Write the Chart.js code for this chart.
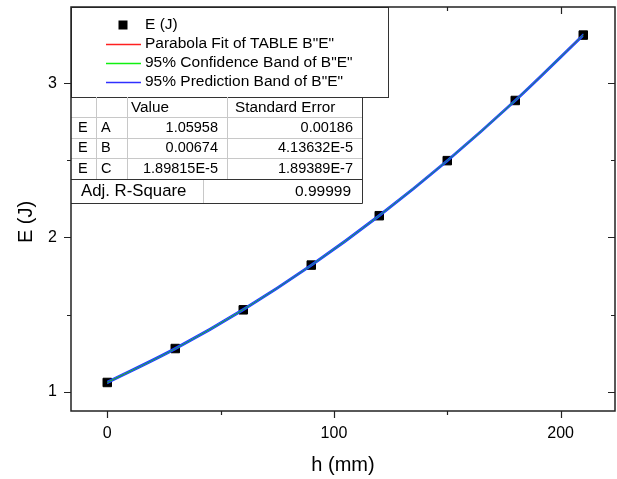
<!DOCTYPE html>
<html>
<head>
<meta charset="utf-8">
<script src="https://cdn.jsdelivr.net/npm/chart.js@4.4.1/dist/chart.umd.min.js"></script>
<style>
html, body { margin: 0; padding: 0; background: #fff; overflow: hidden; }
#wrap { width: 622px; height: 479px; position: relative; }
</style>
</head>
<body>
<div id="wrap"><canvas id="chart"></canvas></div>
<script>
// measured data E (J) vs h (mm)
var hValues = [0, 30, 60, 90, 120, 150, 180, 210];
var eValues = [1.060, 1.280, 1.531, 1.821, 2.141, 2.498, 2.888, 3.312];

// parabola fit and bands
var fitValues = [1.0596, 1.2789, 1.5323, 1.8199, 2.1417, 2.4977, 2.8878, 3.3121];
var confUpper = [1.0630, 1.2810, 1.5340, 1.8215, 2.1432, 2.4995, 2.8902, 3.3160];
var confLower = [1.0562, 1.2768, 1.5306, 1.8183, 2.1402, 2.4959, 2.8854, 3.3082];
var predUpper = [1.0670, 1.2860, 1.5393, 1.8269, 2.1487, 2.5047, 2.8950, 3.3200];
var predLower = [1.0522, 1.2718, 1.5253, 1.8129, 2.1347, 2.4907, 2.8806, 3.3042];

// axes
var xRange = [-16, 224];
var yRange = [0.875, 3.494];
var xMajor = [0, 100, 200];
var xMinor = [50, 150];
var yMajor = [1, 2, 3];
var yMinor = [1.5, 2.5];

// legend + parameter table text
var legendLabels = ['E (J)', 'Parabola Fit of TABLE B"E"', '95% Confidence Band of B"E"', '95% Prediction Band of B"E"'];
var legendColors = ['#000000', '#ff2020', '#10f010', '#3030ff'];
var paramNames = ['A', 'B', 'C'];
var paramValues = ['1.05958', '0.00674', '1.89815E-5'];
var paramErrors = ['0.00186', '4.13632E-5', '1.89389E-7'];
var adjR2 = '0.99999';

var FONT = '"Liberation Sans", Arial, sans-serif';

function toXY(ys) {
    return hValues.map(function (h, i) { return { x: h, y: ys[i] }; });
}

function lineSet(ys, color, width) {
    return {
        data: toXY(ys),
        showLine: true,
        borderColor: color,
        backgroundColor: color,
        borderWidth: width,
        pointRadius: 0,
        cubicInterpolationMode: 'monotone',
        fill: false
    };
}

var framePlugin = {
    id: 'frame',
    afterDraw: function (chart) {
        var ctx = chart.ctx;
        var a = chart.chartArea;
        var xs = chart.scales.x, ys = chart.scales.y;
        ctx.save();

        // ticks (out on left/bottom, in on top/right)
        ctx.strokeStyle = '#222';
        ctx.lineWidth = 1.2;
        ctx.beginPath();
        function xTick(v, len) {
            var px = Math.round(xs.getPixelForValue(v)) + 0.5;
            ctx.moveTo(px, a.bottom); ctx.lineTo(px, a.bottom + len);
            ctx.moveTo(px, a.top); ctx.lineTo(px, a.top + len);
        }
        function yTick(v, len) {
            var py = Math.round(ys.getPixelForValue(v)) + 0.5;
            ctx.moveTo(a.left - len, py); ctx.lineTo(a.left, py);
            ctx.moveTo(a.right - len, py); ctx.lineTo(a.right, py);
        }
        xMajor.forEach(function (v) { xTick(v, 7); });
        xMinor.forEach(function (v) { xTick(v, 4); });
        yMajor.forEach(function (v) { yTick(v, 7); });
        yMinor.forEach(function (v) { yTick(v, 4); });
        ctx.stroke();

        // legend box
        var L = a.left, T = a.top;
        ctx.fillStyle = '#fff';
        ctx.fillRect(L, T, 317, 90);
        ctx.fillRect(L, T + 90, 291, 106);
        ctx.strokeStyle = '#333';
        ctx.lineWidth = 1;
        ctx.strokeRect(L + 0.5, T + 0.5, 317, 90);

        ctx.font = '15.5px ' + FONT;
        ctx.textBaseline = 'middle';
        ctx.textAlign = 'left';
        var rowY = [T + 18, T + 36.5, T + 55.5, T + 74.5];
        legendLabels.forEach(function (lab, i) {
            if (i === 0) {
                ctx.fillStyle = '#000';
                ctx.fillRect(L + 47.5, rowY[0] - 4.5, 9, 9);
            } else {
                ctx.strokeStyle = legendColors[i];
                ctx.lineWidth = 1.3;
                ctx.beginPath();
                ctx.moveTo(L + 35, Math.round(rowY[i]) + 0.5);
                ctx.lineTo(L + 70, Math.round(rowY[i]) + 0.5);
                ctx.stroke();
            }
            ctx.fillStyle = '#000';
            ctx.fillText(lab, L + 74, rowY[i]);
        });

        // table grid
        var tTop = T + 90, rows = [tTop, tTop + 20, tTop + 40.5, tTop + 61, tTop + 82, tTop + 106];
        var cols = [L, L + 25, L + 56, L + 156, L + 291];
        ctx.strokeStyle = '#c8c8c8';
        ctx.lineWidth = 1;
        ctx.beginPath();
        for (var r = 1; r < 4; r++) {
            ctx.moveTo(L, Math.round(rows[r]) + 0.5); ctx.lineTo(cols[4], Math.round(rows[r]) + 0.5);
        }
        for (var c = 1; c < 4; c++) {
            ctx.moveTo(cols[c] + 0.5, rows[0]); ctx.lineTo(cols[c] + 0.5, rows[4]);
        }
        ctx.moveTo(L + 132.5, rows[4]); ctx.lineTo(L + 132.5, rows[5]);
        ctx.stroke();

        ctx.strokeStyle = '#333';
        ctx.beginPath();
        ctx.moveTo(L, Math.round(rows[4]) + 0.5); ctx.lineTo(cols[4], Math.round(rows[4]) + 0.5);
        ctx.moveTo(L, rows[5] + 0.5); ctx.lineTo(cols[4] + 0.5, rows[5] + 0.5);
        ctx.moveTo(cols[4] + 0.5, rows[0]); ctx.lineTo(cols[4] + 0.5, rows[5] + 0.5);
        ctx.stroke();

        ctx.fillStyle = '#000';
        var mid = function (r) { return (rows[r] + rows[r + 1]) / 2 + 0.5; };
        ctx.font = '15.3px ' + FONT;
        ctx.textAlign = 'left';
        ctx.fillText('Value', L + 60, mid(0));
        ctx.fillText('Standard Error', L + 164, mid(0));
        ctx.font = '14.5px ' + FONT;
        paramNames.forEach(function (p, i) {
            ctx.textAlign = 'left';
            ctx.fillText('E', L + 7, mid(i + 1));
            ctx.fillText(p, L + 30, mid(i + 1));
            ctx.textAlign = 'right';
            ctx.fillText(paramValues[i], L + 147, mid(i + 1));
            ctx.fillText(paramErrors[i], L + 282, mid(i + 1));
        });
        ctx.font = '16.8px ' + FONT;
        ctx.textAlign = 'left';
        ctx.fillText('Adj. R-Square', L + 10, mid(4));
        ctx.font = '15.5px ' + FONT;
        ctx.textAlign = 'right';
        ctx.fillText(adjR2, L + 280, mid(4));

        // frame
        ctx.strokeStyle = '#222';
        ctx.lineWidth = 1.5;
        ctx.strokeRect(a.left, a.top, a.right - a.left, a.bottom - a.top);

        // axis titles
        ctx.fillStyle = '#000';
        ctx.font = '20px ' + FONT;
        ctx.textAlign = 'center';
        ctx.textBaseline = 'middle';
        ctx.fillText('h (mm)', (a.left + a.right) / 2, 465);
        ctx.save();
        ctx.translate(26, 222);
        ctx.rotate(-Math.PI / 2);
        ctx.fillText('E (J)', 0, 0);
        ctx.restore();

        ctx.restore();
    }
};

var ctx = document.getElementById('chart');
var chart = new Chart(ctx, {
    type: 'scatter',
    data: {
        datasets: [
            lineSet(predUpper, '#2040ff', 1.2),
            lineSet(predLower, '#2040ff', 1.2),
            lineSet(confUpper, '#00e000', 1),
            lineSet(confLower, '#00e000', 1),
            lineSet(fitValues, '#ff0000', 1),
            {
                data: toXY(eValues),
                showLine: false,
                pointStyle: 'rect',
                pointRadius: 6,
                pointBorderWidth: 1,
                backgroundColor: '#000',
                borderColor: '#000'
            }
        ]
    },
    options: {
        responsive: true,
        maintainAspectRatio: false,
        animation: false,
        layout: { padding: { left: 0, top: 7, right: 2, bottom: 0 } },
        plugins: {
            legend: { display: false },
            tooltip: { enabled: false }
        },
        scales: {
            x: {
                type: 'linear',
                min: xRange[0],
                max: xRange[1],
                afterBuildTicks: function (s) { s.ticks = xMajor.map(function (v) { return { value: v }; }); },
                afterFit: function (s) { s.height = 68; s.paddingLeft = 0; s.paddingRight = 0; },
                grid: { display: false, drawTicks: false },
                border: { display: false },
                ticks: { color: '#000', font: { family: FONT, size: 16 }, padding: 13, maxRotation: 0 }
            },
            y: {
                type: 'linear',
                min: yRange[0],
                max: yRange[1],
                afterBuildTicks: function (s) { s.ticks = yMajor.map(function (v) { return { value: v }; }); },
                afterFit: function (s) { s.width = 71; s.paddingTop = 0; s.paddingBottom = 0; },
                grid: { display: false, drawTicks: false },
                border: { display: false },
                ticks: { color: '#000', font: { family: FONT, size: 16 }, padding: 14 }
            }
        }
    },
    plugins: [framePlugin]
});
</script>
</body>
</html>
